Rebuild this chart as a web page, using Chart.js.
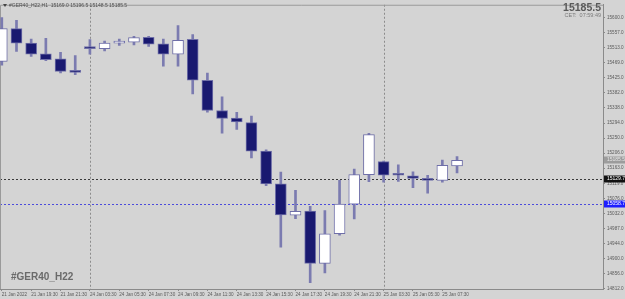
<!DOCTYPE html>
<html>
<head>
<meta charset="utf-8">
<script src="https://cdn.jsdelivr.net/npm/chart.js@4.4.1/dist/chart.umd.min.js"></script>
<style>
  html, body { margin: 0; padding: 0; background: #d4d4d4; }
  canvas { display: block; }
</style>
</head>
<body>
<canvas id="grafico" width="625" height="299"></canvas>
<script>
// velas H1, da mais antiga para a mais recente
const opens  = [15473, 15568, 15526, 15495, 15480, 15447, 15514, 15510, 15526, 15529, 15543, 15524, 15494, 15537, 15418, 15330,
                15308, 15295, 15212, 15117, 15026, 15038, 14886, 14972, 15058, 15144, 15182, 15145, 15140, 15132, 15127, 15169.0];
const highs  = [15600, 15592, 15538, 15540, 15499, 15490, 15536, 15532, 15538, 15546, 15546, 15538, 15577, 15551, 15439, 15370,
                15325, 15314, 15216, 15151, 15098, 15052, 15039, 15127, 15160, 15264, 15183, 15172, 15152, 15142, 15186, 15196.5];
const lows   = [15462, 15502, 15487, 15475, 15439, 15434, 15494, 15503, 15519, 15521, 15516, 15459, 15459, 15378, 15325, 15264,
                15275, 15192, 15112, 14933, 15016, 14830, 14858, 14968, 15015, 15123, 15122, 15124, 15106, 15090, 15122, 15148.5];
const closes = [15568, 15526, 15494, 15478, 15444, 15441, 15510, 15526, 15528, 15542, 15523, 15494, 15534, 15418, 15330, 15307,
                15297, 15212, 15117, 15027, 15037, 14886, 14972, 15058, 15144, 15260, 15142, 15142, 15133, 15127, 15171, 15185.5];

// rótulos do eixo do tempo (um a cada 2 velas)
const xTickIndex  = [0, 2, 4, 6, 8, 10, 12, 14, 16, 18, 20, 22, 24, 26, 28, 30];
const xTickLabels = ["21 Jan 2022", "21 Jan 19:30", "21 Jan 21:30", "24 Jan 03:30", "24 Jan 05:30", "24 Jan 07:30",
                     "24 Jan 09:30", "24 Jan 11:30", "24 Jan 13:30", "24 Jan 15:30", "24 Jan 17:30", "24 Jan 19:30",
                     "24 Jan 21:30", "25 Jan 03:30", "25 Jan 05:30", "25 Jan 07:30"];

// escala de preços
const yTickValues = [15600, 15556.25, 15512.5, 15468.75, 15425, 15381.25, 15337.5, 15293.75, 15250, 15206.25,
                     15162.5, 15118.75, 15075, 15031.25, 14987.5, 14943.75, 14900, 14856.25, 14812.5];
const yTickLabels = ["15600.0", "15557.0", "15513.0", "15469.0", "15425.0", "15382.0", "15338.0", "15294.0", "15250.0", "15206.0",
                     "15163.0", "15119.0", "15076.0", "15032.0", "14987.0", "14944.0", "14900.0", "14856.0", "14812.0"];

const symbol = "#GER40_H22";
const period = "H1";
const bidPrice = 15185.5;
const clockText = "CET:  07:59:49";
const separators = [6, 26];           // separadores de dia (índice da vela)
const levelPrices = [15129.7, 15058.7]; // linhas horizontais

const FONT = "'Liberation Sans', Arial, sans-serif";

const n = opens.length;
const bodies = opens.map((o, i) => ({ x: i, y: [o, closes[i]] }));
const wicks = lows.map((l, i) => ({ x: i, y: [l, highs[i]] }));
const bodyColors = opens.map((o, i) => (closes[i] >= o ? "#ffffff" : "#191970"));

function dashedLine(ctx, x1, y1, x2, y2, color) {
  ctx.save();
  ctx.strokeStyle = color;
  ctx.lineWidth = 1;
  ctx.setLineDash([2, 2]);
  ctx.beginPath();
  ctx.moveTo(x1, y1);
  ctx.lineTo(x2, y2);
  ctx.stroke();
  ctx.restore();
}

function priceBox(ctx, area, y, text, bg, fg) {
  ctx.fillStyle = bg;
  ctx.fillRect(area.right + 1, Math.round(y) - 3.5, 22, 7);
  ctx.fillStyle = fg;
  ctx.font = "5px " + FONT;
  ctx.textAlign = "left";
  ctx.textBaseline = "middle";
  ctx.fillText(text, area.right + 4, Math.round(y));
}

const decor = {
  id: "decor",
  beforeDraw(chart) {
    const ctx = chart.ctx;
    ctx.save();
    ctx.fillStyle = "#d4d4d4";
    ctx.fillRect(0, 0, chart.width, chart.height);
    ctx.restore();
  },
  beforeDatasetsDraw(chart) {
    const { ctx, chartArea: a, scales } = chart;
    separators.forEach((i) => {
      const x = Math.round(scales.x.getPixelForValue(i)) + 0.5;
      dashedLine(ctx, x, a.top, x, a.bottom, "#8c8c8c");
    });
    const colors = ["#3a3a3a", "#4b4bdc"];
    levelPrices.forEach((p, k) => {
      const y = Math.round(scales.y.getPixelForValue(p)) + 0.5;
      dashedLine(ctx, a.left, y, a.right, y, colors[k]);
    });
    // moldura
    ctx.save();
    ctx.strokeStyle = "#9a9a9a";
    ctx.lineWidth = 1;
    ctx.beginPath();
    ctx.moveTo(a.left + 0.5, a.bottom);
    ctx.lineTo(a.left + 0.5, a.top + 0.5);
    ctx.lineTo(a.right, a.top + 0.5);
    ctx.stroke();
    ctx.restore();
  },
  afterDraw(chart) {
    const { ctx, chartArea: a, scales } = chart;
    ctx.save();

    // cabeçalho
    ctx.fillStyle = "#444";
    ctx.beginPath();
    ctx.moveTo(3, 4);
    ctx.lineTo(7, 4);
    ctx.lineTo(5, 7);
    ctx.closePath();
    ctx.fill();
    const last = n - 1;
    ctx.fillStyle = "#4e4e4e";
    ctx.font = "5px " + FONT;
    ctx.textAlign = "left";
    ctx.textBaseline = "middle";
    ctx.fillText(symbol + "," + period + "  " + opens[last].toFixed(1) + " " + highs[last].toFixed(1) + " " +
      lows[last].toFixed(1) + " " + closes[last].toFixed(1), 9, 5.5);

    // preço e relógio
    ctx.textAlign = "right";
    ctx.textBaseline = "alphabetic";
    ctx.fillStyle = "#5a5a5a";
    ctx.font = "bold 10.5px " + FONT;
    ctx.fillText(bidPrice.toFixed(1), 601, 11);
    ctx.fillStyle = "#7a7a7a";
    ctx.font = "5.5px " + FONT;
    ctx.fillText(clockText, 601, 17);

    // marca d'água
    ctx.textAlign = "left";
    ctx.fillStyle = "#6a6a6a";
    ctx.font = "bold 10px " + FONT;
    ctx.fillText(symbol, 11, 280);

    // caixas de preço no eixo
    priceBox(ctx, a, scales.y.getPixelForValue(bidPrice), bidPrice.toFixed(1), "#9c9c9c", "#e6e6e6");
    priceBox(ctx, a, scales.y.getPixelForValue(levelPrices[0]), levelPrices[0].toFixed(1), "#111111", "#ffffff");
    priceBox(ctx, a, scales.y.getPixelForValue(levelPrices[1]), levelPrices[1].toFixed(1), "#1e1eff", "#ffffff");
    ctx.restore();
  },
};

const chart = new Chart(document.getElementById("grafico").getContext("2d"), {
  type: "bar",
  data: {
    datasets: [
      {
        label: "sombras",
        data: wicks,
        backgroundColor: "#7b7bb0",
        barThickness: 2,
        grouped: false,
        order: 2,
      },
      {
        label: "corpos",
        data: bodies,
        backgroundColor: bodyColors,
        borderColor: "#6f6fa8",
        borderWidth: 1,
        borderSkipped: false,
        barThickness: 11,
        minBarLength: 2,
        grouped: false,
        order: 1,
      },
    ],
  },
  options: {
    responsive: false,
    animation: false,
    devicePixelRatio: 1,
    layout: { padding: { left: 0, top: 2, right: 0, bottom: 0 } },
    plugins: { legend: { display: false }, tooltip: { enabled: false } },
    scales: {
      x: {
        type: "linear",
        offset: false,
        min: -0.123,
        max: 40.94,
        afterBuildTicks: (scale) => { scale.ticks = xTickIndex.map((v) => ({ value: v })); },
        afterFit: (scale) => { scale.height = 10; },
        grid: { offset: false, drawOnChartArea: false, drawTicks: true, tickLength: 2, color: "#8a8a8a" },
        border: { display: true, color: "#8a8a8a" },
        ticks: {
          autoSkip: false,
          maxRotation: 0,
          align: "start",
          padding: 1,
          color: "#5a5a5a",
          font: { family: FONT, size: 4.6 },
          callback: (v, i) => xTickLabels[i],
        },
      },
      y: {
        position: "right",
        beginAtZero: false,
        min: 14811.4,
        max: 15637.4,
        afterBuildTicks: (scale) => { scale.ticks = yTickValues.map((v) => ({ value: v })); },
        afterFit: (scale) => { scale.width = 22; },
        grid: { drawOnChartArea: false, drawTicks: true, tickLength: 2, color: "#8a8a8a" },
        border: { display: true, color: "#8a8a8a" },
        ticks: {
          autoSkip: false,
          padding: 2,
          color: "#5a5a5a",
          font: { family: FONT, size: 4.6 },
          callback: (v, i) => yTickLabels[i],
        },
      },
    },
  },
  plugins: [decor],
});
</script>
</body>
</html>
